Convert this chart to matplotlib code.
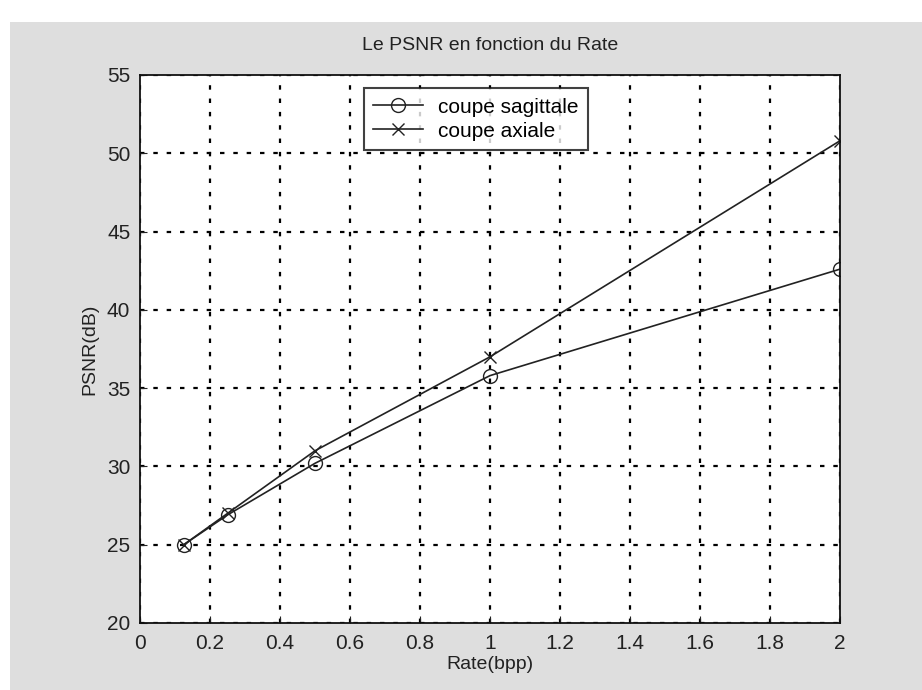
import matplotlib
matplotlib.use("Agg")
import matplotlib.pyplot as plt
from matplotlib.patches import Rectangle

rate = [0.125, 0.25, 0.5, 1.0, 2.0]
psnr_sagittale = [25.0, 26.9, 30.2, 35.8, 42.6]
psnr_axiale = [25.0, 27.0, 31.0, 37.0, 50.8]

xticks = [0, 0.2, 0.4, 0.6, 0.8, 1, 1.2, 1.4, 1.6, 1.8, 2]
xticklabels = ["0", "0.2", "0.4", "0.6", "0.8", "1", "1.2", "1.4", "1.6", "1.8", "2"]
yticks = [20, 25, 30, 35, 40, 45, 50, 55]

plt.rcParams["font.family"] = ["Liberation Sans", "DejaVu Sans"]

fig = plt.figure(figsize=(9.22, 6.90), dpi=100, facecolor="white")
# grey window background
fig.patches.append(Rectangle((10 / 922, 0), 1, 1 - 22 / 690, transform=fig.transFigure,
                             facecolor="#dedede", edgecolor="none", zorder=-10))

ax = fig.add_axes([140 / 922, 67 / 690, 700 / 922, 548 / 690])
ax.set_facecolor("white")

ax.plot(rate, psnr_sagittale, color="#222222", lw=1.2, marker="o", ms=10,
        mfc="none", mec="#222222", mew=1.0, label="coupe sagittale")
ax.plot(rate, psnr_axiale, color="#222222", lw=1.2, marker="x", ms=8,
        mec="#222222", mew=1.0, label="coupe axiale")

ax.set_xlim(0, 2)
ax.set_ylim(20, 55)
ax.set_xticks(xticks)
ax.set_xticklabels(xticklabels)
ax.set_yticks(yticks)
ax.grid(True, color="black", linestyle=(0, (2, 4)), linewidth=1.6)
ax.tick_params(direction="in", length=5, labelsize=15, colors="#222222")
ax.tick_params(axis="x", pad=8)
ax.tick_params(axis="y", pad=7)
for s in ax.spines.values():
    s.set_color("#111111")
    s.set_linewidth(1.3)

ax.set_title("Le PSNR en fonction du Rate", fontsize=14, color="#222222", pad=18)
ax.set_xlabel("Rate(bpp)", fontsize=14, color="#222222", labelpad=2)
ax.set_ylabel("PSNR(dB)", fontsize=14, color="#222222", labelpad=6)

leg = ax.legend(loc="upper center", bbox_to_anchor=(0.48, 0.995), fontsize=15,
                frameon=True, fancybox=False, edgecolor="#111111",
                borderpad=0.45, handlelength=2.4, labelspacing=0.25,
                handletextpad=0.7)
leg.get_frame().set_linewidth(1.5)

fig.savefig("out.png", dpi=100, facecolor=fig.get_facecolor())
